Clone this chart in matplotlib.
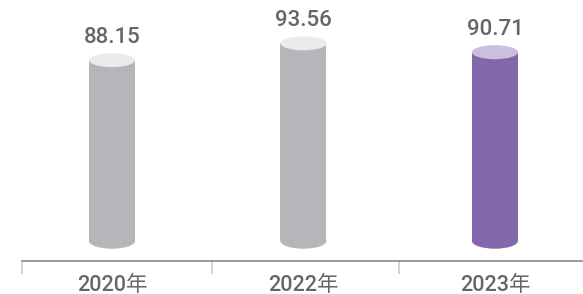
import matplotlib
matplotlib.use("Agg")
import matplotlib.pyplot as plt
from matplotlib.patches import Ellipse, Rectangle
import matplotlib.transforms as mtransforms

categories = ["2020年", "2022年", "2023年"]
values = [88.15, 93.56, 90.71]
value_labels = ["88.15", "93.56", "90.71"]
body_colors = ["#b5b6b9", "#b5b6b9", "#8467ab"]
top_colors = ["#ebebeb", "#ebebeb", "#cbbfdc"]

W, H, DPI = 5.83, 2.94, 100
fig = plt.figure(figsize=(W, H), dpi=DPI)
ax = fig.add_axes([0, 33 / 294, 1, 261 / 294])

base = 30.0
px_per_unit = 3.11
ax.set_ylim(base - 20 / px_per_unit, base + 241 / px_per_unit)
ax.set_xlim(-0.585, 2.46)

bw = 0.24
eh = 14 / px_per_unit
fam = ["Roboto", "Noto Sans CJK SC", "DejaVu Sans"]

for i, v in enumerate(values):
    body = Rectangle((i - bw / 2, base), bw, v - base, facecolor=body_colors[i],
                     edgecolor="none", zorder=2)
    ax.add_patch(body)
    bot = Ellipse((i, base), bw, eh * 1.1, facecolor=body_colors[i], edgecolor="none", zorder=2)
    ax.add_patch(bot)
    top = Ellipse((i, v), bw, eh, facecolor=top_colors[i], edgecolor="none", zorder=3)
    ax.add_patch(top)
    txt = ax.annotate(value_labels[i], (i, v), xytext=(0, 12.5), textcoords="offset points",
                      ha="center", va="baseline", fontsize=16, color="#666666",
                      family=fam, fontweight="medium")
    txt.set_fontstretch("condensed")

trans = mtransforms.blended_transform_factory(ax.transData, fig.transFigure)
for i, c in enumerate(categories):
    ax.text(i, 3 / 294, c, transform=trans, ha="center", va="baseline",
            fontsize=15.5, color="#666666", family=fam, fontweight="medium")

for s in ["top", "right", "left"]:
    ax.spines[s].set_visible(False)
ax.spines["bottom"].set_color("#808080")
ax.spines["bottom"].set_linewidth(1.1)
ax.spines["bottom"].set_bounds(-0.47, 2.46)
ax.set_yticks([])
ax.set_xticks([])
ax.set_xticks([-0.47, 0.52, 1.5], minor=True)
ax.tick_params(axis="x", which="minor", length=9.4, width=1.1, color="#c8c8c8", direction="out")
ax.patch.set_alpha(0)

fig.savefig("out.png", dpi=DPI)
